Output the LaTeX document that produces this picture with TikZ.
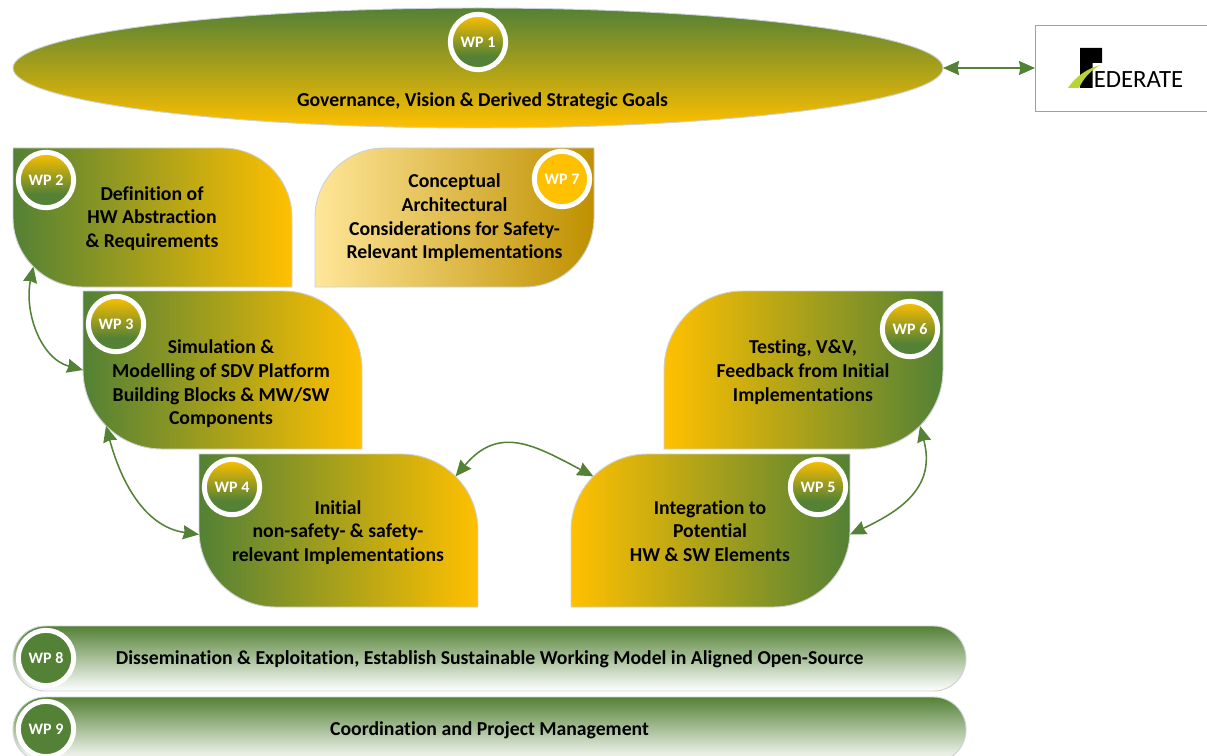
\documentclass[tikz,border=0pt]{standalone}
\usepackage{fontspec}
\setmainfont[Ligatures=NoCommon]{Carlito}
\usetikzlibrary{arrows.meta,shapes.geometric}
\definecolor{wpgreen}{HTML}{538135}
\definecolor{wpyellow}{HTML}{FFC000}
\definecolor{wplight}{HTML}{FFE699}
\definecolor{wpdark}{HTML}{BF9000}
\definecolor{wpedge}{HTML}{CDD1D6}
\definecolor{logoedge}{HTML}{8FAF7F}
\definecolor{logogreen}{HTML}{B7D334}
\pgfdeclareverticalshading{wpbadge}{100bp}{color(0bp)=(wpgreen); color(37bp)=(wpgreen); color(75bp)=(wpyellow); color(100bp)=(wpyellow)}
\pgfdeclarehorizontalshading{leafgy}{100bp}{color(0bp)=(wpgreen); color(25bp)=(wpgreen); color(75bp)=(wpyellow); color(100bp)=(wpyellow)}
\pgfdeclarehorizontalshading{leafyg}{100bp}{color(0bp)=(wpyellow); color(25bp)=(wpyellow); color(75bp)=(wpgreen); color(100bp)=(wpgreen)}
\pgfdeclarehorizontalshading{leafpale}{100bp}{color(0bp)=(wplight); color(25bp)=(wplight); color(75bp)=(wpdark); color(100bp)=(wpdark)}
\tikzset{
  bodybox/.style={inner sep=0pt,outer sep=0pt,draw=none,fill=none},
  leaf/.style={draw=wpedge,line width=0.7pt,shade,shading angle=0},
  label/.style={font=\fontsize{14.8}{17.8}\selectfont\bfseries,align=center,text=black,inner sep=0pt},
  badge/.style={circle,draw=white,line width=3.75pt,minimum size=41.5pt,inner sep=0pt,
    font=\fontsize{12}{12}\selectfont\bfseries,text=white},
  gradbadge/.style={badge,shade,shading=wpbadge},
  pill/.style={rounded corners=24.3pt,draw=wpedge,line width=0.7pt,top color=wpgreen,bottom color=white,
    minimum width=714.75pt,minimum height=48.75pt,inner sep=0pt,outer sep=0pt,text height=12pt,text depth=3pt,
    font=\fontsize{14.8}{17.8}\selectfont\bfseries},
  link/.style={draw=wpgreen,line width=1.15pt,{Stealth[length=12pt,width=10.5pt,inset=1pt]}-{Stealth[length=12pt,width=10.5pt,inset=1pt]}},
}
% round top-right + bottom-left
\newcommand\leafTR[6]{%
  \node[bodybox,minimum width=#4*0.75pt,minimum height=#5*0.75pt] (#1) at (#2,#3) {};
  \path[leaf,shading=#6] (#1.north west) -- ([xshift=-#5*0.375pt]#1.north east)
    arc[start angle=90,end angle=0,radius=#5*0.375pt] -- (#1.south east) -- ([xshift=#5*0.375pt]#1.south west)
    arc[start angle=270,end angle=180,radius=#5*0.375pt] -- cycle;}
% round top-left + bottom-right
\newcommand\leafTL[6]{%
  \node[bodybox,minimum width=#4*0.75pt,minimum height=#5*0.75pt] (#1) at (#2,#3) {};
  \path[leaf,shading=#6] (#1.north east) -- ([xshift=#5*0.375pt]#1.north west)
    arc[start angle=90,end angle=180,radius=#5*0.375pt] -- (#1.south west) -- ([xshift=-#5*0.375pt]#1.south east)
    arc[start angle=270,end angle=360,radius=#5*0.375pt] -- cycle;}
\begin{document}
\begin{tikzpicture}[x=0.75pt,y=-0.75pt]
\path[use as bounding box,clip] (0,0) rectangle (1207,756);
\fill[white] (0,0) rectangle (1207,756);

% WP1
\node[ellipse,draw=wpedge,line width=0.7pt,top color=wpgreen,bottom color=wpyellow,
  minimum width=697.5pt,minimum height=90pt,inner sep=0pt,outer sep=0pt] (wp1) at (478,68) {};
\node[label] (wp1t) at (482.5,101) {Governance, Vision \& Derived Strategic Goals};
\node[gradbadge] (b1) at (478,42) {WP 1};

% logo
\node[draw=logoedge,line width=0.7pt,minimum width=129.75pt,minimum height=64.5pt,inner sep=0pt,outer sep=0pt] (logo) at (1121.5,68) {};
\fill[black] (1080,48) -- (1102,48) -- (1102,63) -- (1092.5,63) -- (1092.5,88) -- (1080,88) -- cycle;
\fill[logogreen] (1068,88) .. controls (1076,76) and (1087,69) .. (1100,65) .. controls (1090,71) and (1083,79) .. (1079,88) -- cycle;
\node[font=\fontsize{18.6}{20}\selectfont,text=black,inner sep=0pt,anchor=base west] (logot) at (1093.5,87.5) {EDERATE};

% bodies
\leafTR{wp2}{152.5}{217.5}{279}{139}{leafgy}
\leafTL{wp7}{454.5}{217.5}{279}{139}{leafpale}
\leafTR{wp3}{222.5}{370}{279}{158}{leafgy}
\leafTL{wp6}{803.5}{370}{279}{158}{leafyg}
\leafTR{wp4}{338.5}{530.5}{279}{153}{leafgy}
\leafTL{wp5}{710.5}{530.5}{279}{153}{leafyg}

% labels
\node[label] (t2) at (152,218.5) {Definition of\\HW Abstraction\\\& Requirements};
\node[label] (t7) at (454.5,218) {Conceptual\\Architectural\\Considerations for Safety-\\Relevant Implementations};
\node[label] (t3) at (221,384) {Simulation \&\\Modelling of SDV Platform\\Building Blocks \& MW/SW\\Components};
\node[label] (t6) at (803,372) {Testing, V\&V,\\Feedback from Initial\\Implementations};
\node[label] (t4) at (338,532.5) {Initial\\non-safety- \& safety-\\relevant Implementations};
\node[label] (t5) at (710,531) {Integration to\\Potential\\HW \& SW Elements};

% badges
\node[gradbadge] (b2) at (46,180) {WP 2};
\node[gradbadge] (b3) at (116,324) {WP 3};
\node[gradbadge] (b4) at (232,487) {WP 4};
\node[gradbadge] (b5) at (818,487) {WP 5};
\node[gradbadge] (b6) at (910,329) {WP 6};
\node[badge,fill=wpyellow] (b7) at (562,179) {WP 7};

% bars
\node[pill] (wp8) at (489.5,658.5) {Dissemination \& Exploitation, Establish Sustainable Working Model in Aligned Open-Source};
\node[pill] (wp9) at (489.5,729.5) {Coordination and Project Management};
\node[badge,fill=wpgreen] (b8) at (46,658) {WP 8};
\node[badge,fill=wpgreen] (b9) at (46,729) {WP 9};

% connectors
\draw[link] (wp1.east) -- (logo.west);
\draw[link] ([shift={(20.4,-20.4)}]wp2.south west) to[out=258,in=165] (wp3.west);
\draw[link] ([shift={(23,-23)}]wp3.south west) to[out=285,in=172] ([yshift=-3pt]wp4.west);
\draw[link] ([shift={(-22.4,22.4)}]wp4.north east) to[out=50,in=152,looseness=1.25] ([shift={(22.4,22.4)}]wp5.north west);
\draw[link] ([yshift=-3pt]wp5.east) to[out=25,in=285,looseness=1.2] ([shift={(-23,-23)}]wp6.south east);
\end{tikzpicture}
\end{document}
